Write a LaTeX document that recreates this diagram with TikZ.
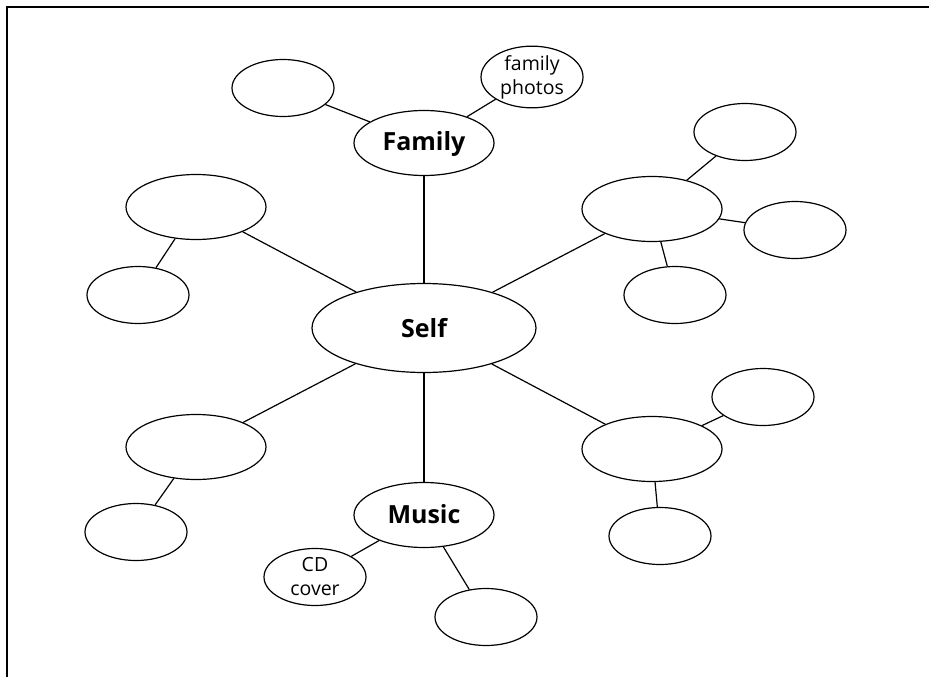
\documentclass[tikz,border=0pt]{standalone}
\usepackage{fontspec}
\setmainfont{Open Sans}
\usetikzlibrary{shapes.geometric}

\tikzset{
	hub/.style = {draw, ellipse, line width = 1.2 pt, inner sep = 0 pt,
		minimum width = 224 pt, minimum height = 89 pt,
		font = \fontsize{25}{30}\selectfont\bfseries},
	branch/.style = {hub, minimum width = 140 pt, minimum height = 65 pt,
		text depth = 0.3 em},
	leaf/.style = {draw, ellipse, line width = 1.2 pt, inner sep = 0 pt,
		minimum width = 102 pt, minimum height = 57 pt, align = center,
		font = \fontsize{19.5}{24}\selectfont},
	link/.style = {line width = 1.2 pt}
}

\begin{document}
\begin{tikzpicture}[x = 1 pt, y = -1 pt]

	\useasboundingbox (0, 0) rectangle (929, 677);

	% Frame
	
	\draw [line width = 2 pt] (7, 677) -- (7, 7) -- (929, 7);

	% Centre
	
	\node [hub] (self) at (424, 328) {Self};
	
	% Branches
	
	\node [branch] (family) at (424, 143) {Family};
	\node [branch] (music) at (424, 515) {Music};
	\node [branch] (upright) at (652, 209) {};
	\node [branch] (downright) at (652, 449) {};
	\node [branch] (upleft) at (196, 207) {};
	\node [branch] (downleft) at (196, 447) {};
	
	% Leaves
	
	\node [leaf] (familyleft) at (283, 88) {};
	\node [leaf] (photos) at (532, 77) {family\\photos};
	\node [leaf] (cd) at (315, 577) {CD\\cover};
	\node [leaf] (musicright) at (486, 617) {};
	\node [leaf] (uptop) at (745, 132) {};
	\node [leaf] (upside) at (795, 230) {};
	\node [leaf] (upbottom) at (675, 295) {};
	\node [leaf] (downtop) at (763, 397) {};
	\node [leaf] (downbottom) at (660, 536) {};
	\node [leaf] (upleftbottom) at (138, 295) {};
	\node [leaf] (downleftbottom) at (136, 532) {};
	
	% Links
	
	\draw [link] (self) -- (family);
	\draw [link] (self) -- (music);
	\draw [link] (self) -- (upright);
	\draw [link] (self) -- (downright);
	\draw [link] (self) -- (upleft);
	\draw [link] (self) -- (downleft);
	
	\draw [link] (family) -- (familyleft);
	\draw [link] (family) -- (photos);
	\draw [link] (music) -- (cd);
	\draw [link] (music) -- (musicright);
	\draw [link] (upright) -- (uptop);
	\draw [link] (upright) -- (upside);
	\draw [link] (upright) -- (upbottom);
	\draw [link] (downright) -- (downtop);
	\draw [link] (downright) -- (downbottom);
	\draw [link] (upleft) -- (upleftbottom);
	\draw [link] (downleft) -- (downleftbottom);

\end{tikzpicture}
\end{document}
